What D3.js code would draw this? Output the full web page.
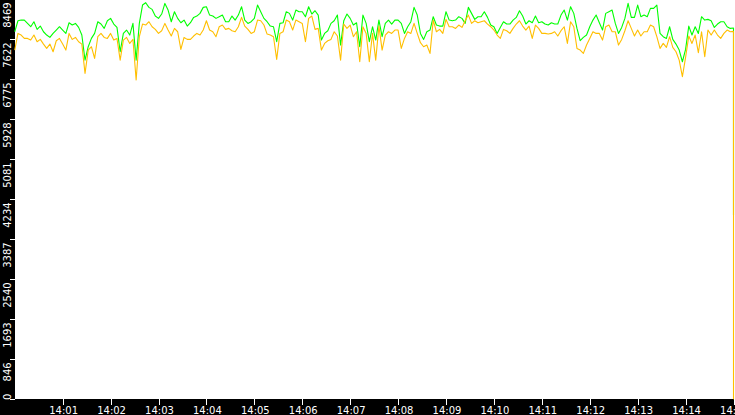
<!DOCTYPE html>
<html>
<head>
<meta charset="utf-8">
<script src="https://cdn.jsdelivr.net/npm/d3@7"></script>
<style>
  html, body { margin: 0; padding: 0; background: #fff; }
  svg { display: block; }
  text { font-family: "DejaVu Sans", sans-serif; font-size: 10px; fill: #fff; }
</style>
</head>
<body>
<svg id="chart" width="735" height="415"></svg>
<script>
// ---- data (one sample every 4 s from 14:00:00) ----
const startTime = "14:00:00";
const sampleSeconds = 4;
const yTickValues = [0, 846, 1693, 2540, 3387, 4234, 5081, 5928, 6775, 7622, 8469];
const xTickLabels = ["14:01","14:02","14:03","14:04","14:05","14:06","14:07","14:08","14:09","14:10","14:11","14:12","14:13","14:14","14:15"];

const greenSeries = [
7782,8015,8029,8029,7959,7888,7994,7832,7902,7782,7712,7662,7747,7818,7888,7818,7747,7973,7924,7959,
7874,7712,7182,7465,7641,7747,7994,7945,7853,8015,8065,7945,7874,7359,7747,7818,7712,7959,7182,7959,
8347,8397,8298,8255,8114,8065,8157,8382,8241,7994,8206,8065,7973,8029,7902,7973,8086,8114,8171,8298,
8312,8135,8114,8065,8100,8135,7994,7994,8114,8029,8135,8312,8029,7959,7994,8065,8347,8206,8065,7994,
7902,7888,7571,7959,7973,8206,8171,8029,8241,8206,8206,8100,8312,8157,8227,8135,7606,7747,7804,7959,
8015,8135,7500,8015,8157,8065,7924,7973,7465,8135,7959,7571,7888,7606,8029,7677,7959,8029,7945,8029,
8029,7959,7747,7888,7994,8298,8135,7747,7620,7782,7818,8100,7924,7902,7902,8206,8029,8015,8029,8100,
8065,7959,8298,8171,8044,8100,8100,8206,8086,7924,7888,7747,7874,7994,7945,7945,8029,8086,8227,8114,
7945,8015,7973,8114,7973,7994,7945,7924,7973,7945,7945,8135,8241,8029,8312,8171,7853,7592,7662,7712,
7888,8029,8135,7973,7818,8171,8206,8241,7959,7747,7874,8065,8382,8086,8086,8347,8100,8135,8100,8277,
8277,8347,7747,7677,7641,7888,7620,7521,7394,7147,7408,7902,7712,7888,7747,8100,8029,8044,8015,7874,
7945,7994,7994,7888,7853
];

const orangeSeries = [
7394,7747,7712,7641,7641,7606,7712,7571,7620,7521,7429,7521,7359,7592,7641,7521,7394,7747,7620,7662,
7571,7521,6900,7394,7465,7218,7677,7747,7662,7641,7747,7606,7641,7182,7606,7662,7535,7620,6759,7677,
7945,7924,7994,7888,7832,7747,7804,7959,7818,7691,7853,7782,7408,7662,7620,7620,7691,7747,7712,7818,
8015,7818,7782,7677,7888,7924,7832,7853,7804,7782,7888,8086,7902,7832,7747,7782,8029,8015,7924,7733,
7712,7677,7197,7747,7782,8029,7994,7818,8029,7994,7959,7571,8065,8114,7832,7853,7394,7535,7592,7620,
7782,7691,7182,7945,7853,7924,7677,7782,7147,7888,7747,7147,7747,7182,7902,7394,7712,7782,7747,7818,
7818,7429,7641,7782,7747,7959,7747,7550,7465,7500,7323,8029,7782,7832,7747,8044,7888,7888,7853,7924,
7874,8015,8135,7959,8015,7973,7994,8015,7945,7888,7818,7712,7641,7832,7804,7747,7853,7945,8015,7902,
7818,7902,7641,7924,7853,7747,7747,7733,7747,7782,7691,7804,7888,7535,7994,7888,7429,7394,7323,7500,
7641,7782,7747,7747,7606,7888,7924,7782,7782,7500,7620,7804,8015,7853,7691,7818,7691,7782,7782,7924,
7888,7677,7429,7535,7451,7677,7451,7359,7182,6830,7239,7691,7535,7712,7338,7782,7253,7818,7712,7818,
7712,7641,7747,7818,7782
];

// final instant of the capture (the drop at the end)
const endTimes = ["14:15:00", "14:15:00"];
const greenEnd = [7860, 3902];
const orangeEnd = [7790, 0];

// ---- layout ----
const W = 735, H = 415;
const plotLeft = 15, plotBottom = 399.3;
const svg = d3.select("#chart");

const parseHMS = d3.timeParse("%H:%M:%S");
const parseHM = d3.timeParse("%H:%M");
const t0 = parseHMS(startTime);
const timeAt = i => new Date(t0.getTime() + i * sampleSeconds * 1000);

function toPoints(series, endVals) {
  const pts = series.map((v, i) => ({ t: timeAt(i), v }));
  endVals.forEach((v, k) => pts.push({ t: parseHMS(endTimes[k]), v }));
  return pts;
}

const x = d3.scaleTime()
  .domain([t0, parseHM("14:15")])
  .range([plotLeft - 0.25, 733.5]);
const y = d3.scaleLinear()
  .domain([0, 8469])
  .range([plotBottom, plotBottom - 400]);

// backgrounds
svg.append("rect").attr("x", 0).attr("y", 0).attr("width", W).attr("height", H).attr("fill", "#000");
svg.append("rect").attr("x", plotLeft).attr("y", 0).attr("width", W - plotLeft).attr("height", 399).attr("fill", "#fff");

// lines
const line = d3.line()
  .x(d => x(d.t))
  .y(d => y(d.v));

const plot = svg.append("g");
plot.append("path").datum(toPoints(greenSeries, greenEnd))
  .attr("d", line).attr("fill", "none").attr("stroke", "#00ff00")
  .attr("stroke-width", 1.1).attr("stroke-linejoin", "round");
plot.append("path").datum(toPoints(orangeSeries, orangeEnd))
  .attr("d", line).attr("fill", "none").attr("stroke", "#ffbf00")
  .attr("stroke-width", 1.1).attr("stroke-linejoin", "round");

// y axis (rotated labels on black strip)
const yAxis = svg.append("g");
yTickValues.forEach(v => {
  const py = y(v);
  yAxis.append("line")
    .attr("x1", 10).attr("x2", plotLeft)
    .attr("y1", Math.round(py) + 0.5).attr("y2", Math.round(py) + 0.5)
    .attr("stroke", "#fff").attr("stroke-width", 1);
  const label = String(v);
  const below = py + 3 + label.length * 6.4 <= plotBottom;
  yAxis.append("text")
    .attr("transform", `translate(10.5,${below ? py + 3 : py + 0.7}) rotate(-90)`)
    .attr("text-anchor", below ? "end" : "start")
    .text(label);
});

// x axis
const xTickDates = xTickLabels.map(parseHM);
const xAxis = svg.append("g");
xTickDates.forEach((d, i) => {
  const px = Math.round(x(d)) + 0.5;
  xAxis.append("line")
    .attr("x1", px).attr("x2", px)
    .attr("y1", 399).attr("y2", 405)
    .attr("stroke", "#fff").attr("stroke-width", 1);
  xAxis.append("text")
    .attr("x", x(d) + 1).attr("y", 414)
    .attr("text-anchor", "middle")
    .text(xTickLabels[i]);
});
</script>
</body>
</html>
